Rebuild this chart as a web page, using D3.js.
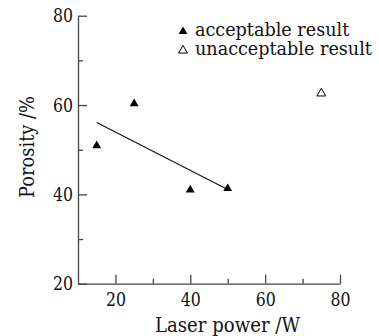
<!DOCTYPE html>
<html>
<head>
<meta charset="utf-8">
<script src="https://cdn.jsdelivr.net/npm/d3@7"></script>
<style>
  body { margin: 0; background: #fff; }
  svg text { font-family: "DejaVu Serif", serif; fill: #111; }
</style>
</head>
<body>
<script>
// values
const acceptPower = [15, 25, 40, 50];
const acceptPorosity = [50.9, 60.3, 41.0, 41.3];
const unacceptPower = [75];
const unacceptPorosity = [62.6];
const fitPower = [15, 50];
const fitPorosity = [56.1, 41.1];
const xTicks = [20, 40, 60, 80];
const xMinor = [30, 50, 70];
const yTicks = [20, 40, 60, 80];
const yMinor = [30, 50, 70];
const legendLabels = ["acceptable result", "unacceptable result"];

const width = 379, height = 336;
const axisColor = "#444";

const svg = d3.select("body").append("svg")
  .attr("width", width)
  .attr("height", height);

const x = d3.scaleLinear().domain([10, 80]).range([78, 340]);
const y = d3.scaleLinear().domain([20, 80]).range([283.7, 15.7]);

// x axis, ticks pointing up into the plot
svg.append("g")
  .attr("transform", "translate(0," + y(20) + ")")
  .call(d3.axisBottom(x).tickValues(xTicks).tickSizeInner(-9).tickSizeOuter(0).tickPadding(9));
svg.append("g")
  .attr("transform", "translate(0," + y(20) + ")")
  .call(d3.axisBottom(x).tickValues(xMinor).tickSizeInner(-5).tickSizeOuter(0).tickFormat(""))
  .select(".domain").remove();

// y axis, ticks pointing right
svg.append("g")
  .attr("transform", "translate(" + x(10) + ",0)")
  .call(d3.axisLeft(y).tickValues(yTicks).tickSizeInner(-9).tickSizeOuter(0).tickPadding(5));
svg.append("g")
  .attr("transform", "translate(" + x(10) + ",0)")
  .call(d3.axisLeft(y).tickValues(yMinor).tickSizeInner(-5).tickSizeOuter(0).tickFormat(""))
  .select(".domain").remove();

svg.selectAll(".domain, .tick line")
  .attr("stroke", axisColor)
  .attr("stroke-width", 1.3);
svg.selectAll(".tick text")
  .attr("font-family", "DejaVu Serif")
  .attr("font-size", 19)
  .attr("fill", "#111")
  .attr("textLength", 20)
  .attr("lengthAdjust", "spacingAndGlyphs");

// axis titles
svg.append("text")
  .attr("x", 155)
  .attr("y", 332)
  .attr("font-size", 19.5)
  .attr("textLength", 145)
  .attr("lengthAdjust", "spacingAndGlyphs")
  .text("Laser power /W");

svg.append("text")
  .attr("transform", "translate(33.5,198) rotate(-90)")
  .attr("font-size", 19.5)
  .attr("textLength", 102)
  .attr("lengthAdjust", "spacingAndGlyphs")
  .text("Porosity /%");

// fit line
const line = d3.line()
  .x((d, i) => x(fitPower[i]))
  .y(d => y(d));
svg.append("path")
  .datum(fitPorosity)
  .attr("d", line)
  .attr("fill", "none")
  .attr("stroke", "#111")
  .attr("stroke-width", 1.1);

const tri = d3.symbol().type(d3.symbolTriangle).size(34);

svg.append("g").selectAll("path")
  .data(acceptPower)
  .enter().append("path")
  .attr("d", tri)
  .attr("transform", (d, i) => "translate(" + x(d) + "," + y(acceptPorosity[i]) + ")")
  .attr("fill", "#000");

svg.append("g").selectAll("path")
  .data(unacceptPower)
  .enter().append("path")
  .attr("d", tri)
  .attr("transform", (d, i) => "translate(" + x(d) + "," + y(unacceptPorosity[i]) + ")")
  .attr("fill", "#fff")
  .attr("stroke", "#000")
  .attr("stroke-width", 1);

// legend
const legend = svg.append("g");
const legendY = [31.5, 50.5];
legend.selectAll("path")
  .data(legendLabels)
  .enter().append("path")
  .attr("d", tri)
  .attr("transform", (d, i) => "translate(183," + legendY[i] + ")")
  .attr("fill", (d, i) => i === 0 ? "#000" : "#fff")
  .attr("stroke", "#000")
  .attr("stroke-width", (d, i) => i === 0 ? 0 : 1);
legend.selectAll("text")
  .data(legendLabels)
  .enter().append("text")
  .attr("x", 195)
  .attr("y", (d, i) => legendY[i] + 4.5)
  .attr("font-size", 17.6)
  .text(d => d);
</script>
</body>
</html>
